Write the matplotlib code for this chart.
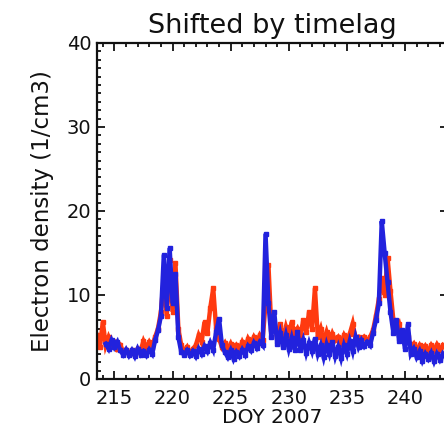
import numpy as np
import matplotlib
matplotlib.use("Agg")
import matplotlib.pyplot as plt
from matplotlib.ticker import MultipleLocator

# ---- data ----
red_start = 213.5
red_values = [
    5.2, 3.8, 6.8, 4.0, 5.0, 4.2, 4.4, 3.6, 4.0, 3.3,
    3.5, 3.0, 3.4, 3.0, 3.6, 3.4, 4.5, 3.7, 4.4, 3.8,
    5.0, 6.0, 8.0, 12.0, 7.5, 14.2, 8.0, 13.8, 6.0, 4.0,
    3.3, 3.8, 3.0, 3.6, 4.0, 5.2, 4.4, 6.8, 5.5, 8.5,
    10.8, 6.0, 4.8, 3.8, 4.3, 3.5, 4.2, 3.4, 4.0, 3.5,
    4.4, 3.7, 4.8, 4.2, 5.0, 4.4, 5.2, 4.6, 9.0, 13.6,
    6.0, 6.6, 5.0, 6.5, 4.8, 6.2, 5.0, 6.8, 5.4, 6.0,
    5.2, 7.0, 5.6, 8.0, 6.0, 10.8, 5.0, 6.0, 4.5, 5.6,
    4.4, 5.4, 4.6, 5.0, 4.3, 5.2, 4.5, 5.4, 6.6, 4.8,
    5.0, 4.5, 5.0, 4.6, 5.0, 5.8, 7.5, 9.5, 12.0, 10.0,
    14.4, 10.5, 7.0, 5.8, 6.5, 5.0, 4.4, 5.0, 3.8, 4.2,
    3.4, 4.0, 3.3, 3.9, 3.3, 4.0, 3.4, 4.1, 3.5, 4.0,
    3.6,
]
blue_start = 214.25
blue_values = [
    4.2, 3.6, 4.6, 3.8, 4.4, 3.4, 2.9, 3.5, 2.8, 3.4,
    2.7, 3.6, 2.9, 3.3, 2.8, 3.5, 3.0, 4.6, 5.8, 7.5,
    14.8, 8.5, 15.6, 9.0, 12.5, 5.0, 3.2, 2.9, 3.4, 2.8,
    3.3, 2.7, 3.6, 3.0, 3.9, 3.3, 4.3, 3.5, 5.6, 7.2,
    4.0, 3.2, 2.6, 3.4, 2.4, 3.2, 2.7, 3.5, 2.9, 3.9,
    3.4, 4.3, 3.7, 4.4, 4.0, 17.3, 9.0, 5.0, 8.0, 4.2,
    5.5, 3.8, 5.2, 3.6, 4.9, 3.5, 5.6, 3.4, 4.6, 3.1,
    4.3, 3.3, 4.8, 3.0, 4.0, 2.6, 4.1, 3.0, 4.4, 2.7,
    3.8, 2.5, 4.0, 3.0, 4.5, 3.3, 5.0, 3.8, 4.6, 3.9,
    4.4, 4.0, 5.5, 7.0, 9.0, 18.8, 15.0, 11.5, 8.0, 5.5,
    7.0, 4.5, 5.8, 3.6, 6.5, 3.0, 3.6, 2.6, 3.3, 2.2,
    3.0, 2.4, 3.1, 2.1, 3.0, 2.3, 3.0, 2.5,
]
step = 0.25
x_ticks = [215, 220, 225, 230, 235, 240]
y_ticks = [0, 10, 20, 30, 40]
title = "Shifted by timelag"
xlabel = "DOY 2007"
ylabel = "Electron density (1/cm3)"

red_doy = red_start + step * np.arange(len(red_values))
blue_doy = blue_start + step * np.arange(len(blue_values))

plt.rcParams['font.family'] = ['DejaVu Sans']
fig = plt.figure(figsize=(4.44, 4.37), dpi=100)
ax = fig.add_axes([97 / 444, 1 - 379 / 437, (448 - 97) / 444, (379 - 43) / 437])

ax.plot(red_doy, red_values, color='#ff3a10', lw=3.2, marker='s', ms=2.5,
        solid_joinstyle='miter')
ax.plot(blue_doy, blue_values, color='#2222dd', lw=3.2, marker='s', ms=2.5,
        solid_joinstyle='miter')

ax.set_xlim(213.5, 243.7)
ax.set_ylim(0, 40)
ax.set_xticks(x_ticks)
ax.set_yticks(y_ticks)
ax.xaxis.set_minor_locator(MultipleLocator(1))
ax.yaxis.set_minor_locator(MultipleLocator(1))
ax.tick_params(which='both', direction='in', top=True, right=True, width=1.3,
               colors='#111111', labelsize=14)
ax.tick_params(which='major', length=6)
ax.tick_params(which='minor', length=3)
ax.tick_params(axis='x', pad=7)
ax.tick_params(axis='y', pad=4)
for s in ax.spines.values():
    s.set_linewidth(1.6)
    s.set_color('#111111')

ax.set_title(title, fontsize=19.5, pad=7, color='#111111')
ax.set_xlabel(xlabel, fontsize=14.5, labelpad=0, color='#111111')
ax.set_ylabel(ylabel, fontsize=16.5, labelpad=9, color='#111111')

fig.savefig('out.png', dpi=100)
